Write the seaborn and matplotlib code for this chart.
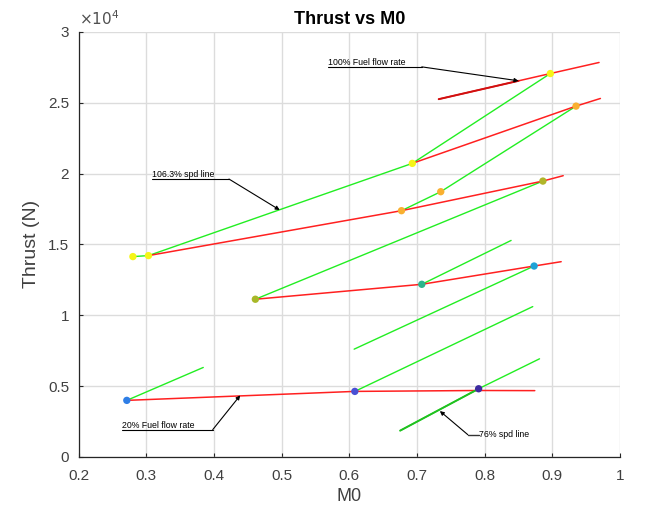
import numpy as np
import pandas as pd
import matplotlib
matplotlib.use("Agg")
import matplotlib.pyplot as plt
import seaborn as sns
from matplotlib.ticker import FuncFormatter

# ---- data ----
# green speed lines
spd_names = ["G1", "G2", "G3", "G4", "G5", "G6", "G7", "G8"]
spd_x = [[0.280, 0.303, 0.693, 0.897],
         [0.677, 0.735, 0.935],
         [0.461, 0.886],
         [0.707, 0.839],
         [0.607, 0.873],
         [0.608, 0.871],
         [0.675, 0.793, 0.881],
         [0.271, 0.384]]
spd_y = [[14140, 14210, 20720, 27060],
         [17380, 18720, 24760],
         [11130, 19470],
         [12184, 15280],
         [7607, 13474],
         [4626, 10611],
         [1857, 4861, 6926],
         [3993, 6316]]
# red fuel flow lines
fuel_names = ["R1", "R2", "R3", "R4", "R5"]
fuel_x = [[0.732, 0.897, 0.969],
          [0.693, 0.935, 0.971],
          [0.303, 0.677, 0.886, 0.916],
          [0.461, 0.707, 0.873, 0.913],
          [0.271, 0.608, 0.793, 0.874]]
fuel_y = [[25250, 27060, 27840],
          [20720, 24760, 25300],
          [14210, 17380, 19470, 19850],
          [11130, 12184, 13474, 13780],
          [3993, 4626, 4690, 4680]]
# overlapping (darker) segments
dark_red_x = [0.732, 0.850]
dark_red_y = [25250, 26545]
dark_green_x = [0.675, 0.793]
dark_green_y = [1857, 4861]
# operating points
pt_x = [0.280, 0.303, 0.693, 0.897, 0.935, 0.677, 0.735, 0.886, 0.461, 0.707, 0.873, 0.271, 0.608, 0.791]
pt_y = [14140, 14210, 20720, 27060, 24760, 17380, 18720, 19470, 11130, 12184, 13474, 3993, 4626, 4813]
pt_colors = ["#f5f518", "#f5f518", "#f5f518", "#f5f518", "#f9b030", "#f9b030", "#f9b030",
             "#b0b52a", "#a8b828", "#2cb58c", "#1ea2d6", "#2f7ee6", "#4950d4", "#3d2aa0"]

# annotations: text, text x, text y, line start x, line y, elbow x, target x, target y
ann_text = ["100% Fuel flow rate", "106.3% spd line", "20% Fuel flow rate", "76% spd line"]
ann_tx = [0.568, 0.308, 0.2646, 0.791]
ann_ty = [27815, 19966, 2232, 1572]
ann_lx = [0.568, 0.308, 0.2646, 0.791]
ann_ly = [27530, 19613, 1927, 1572]
ann_ex = [0.707, 0.422, 0.398, 0.775]
ann_px = [0.850, 0.497, 0.4386, 0.7337]
ann_py = [26545, 17428, 4345, 3240]

# ---- build tables ----
rows = []
for n, xs, ys in zip(spd_names, spd_x, spd_y):
    for i, (a, b) in enumerate(zip(xs, ys)):
        rows.append((n, i, a, b))
spd_df = pd.DataFrame(rows, columns=["line", "order", "M0", "Thrust"])
rows = []
for n, xs, ys in zip(fuel_names, fuel_x, fuel_y):
    for i, (a, b) in enumerate(zip(xs, ys)):
        rows.append((n, i, a, b))
fuel_df = pd.DataFrame(rows, columns=["line", "order", "M0", "Thrust"])
pts_df = pd.DataFrame({"M0": pt_x, "Thrust": pt_y, "id": [str(i) for i in range(len(pt_x))]})

sns.set_theme(style="white")
plt.rcParams["font.family"] = ["Liberation Sans", "DejaVu Sans"]

fig = plt.figure(figsize=(6.62, 5.14), dpi=100)
ax = fig.add_axes([0.119, 0.111, 0.8176, 0.827])

sns.lineplot(data=spd_df, x="M0", y="Thrust", units="line", estimator=None, sort=False,
             color="#22ee22", lw=1.0, ax=ax, legend=False)
sns.lineplot(data=fuel_df, x="M0", y="Thrust", units="line", estimator=None, sort=False,
             color="#ff2020", lw=1.1, ax=ax, legend=False)
sns.lineplot(x=dark_red_x, y=dark_red_y, color="#d01010", lw=1.4, ax=ax, legend=False)
sns.lineplot(x=dark_green_x, y=dark_green_y, color="#20c020", lw=1.4, ax=ax, legend=False)
sns.scatterplot(data=pts_df, x="M0", y="Thrust", hue="id", palette=pt_colors, s=28,
                marker="o", linewidth=0, ax=ax, legend=False, zorder=5)

for t, tx, ty, lx, ly, ex, px, py in zip(ann_text, ann_tx, ann_ty, ann_lx, ann_ly, ann_ex, ann_px, ann_py):
    ax.text(tx, ty, t, fontsize=6.3, va="center", ha="left", color="black")
    if ly != ty:
        ax.plot([lx, ex], [ly, ly], color="black", lw=0.8)
    else:
        ax.plot([ex, lx], [ly, ly], color="#333333", lw=1.0)
    ax.annotate("", xy=(px, py), xytext=(ex, ly),
                arrowprops=dict(arrowstyle="-|>", lw=0.8, color="black", mutation_scale=6,
                                shrinkA=0, shrinkB=0))

ax.set_xlim(0.2, 1.0)
ax.set_ylim(0, 30000)
ax.set_xticks(np.arange(0.2, 1.001, 0.1))
ax.set_yticks(np.arange(0, 30001, 5000))
ax.xaxis.set_major_formatter(FuncFormatter(lambda v, p: f"{v:g}"))
ax.yaxis.set_major_formatter(FuncFormatter(lambda v, p: f"{v/1e4:g}"))
ax.grid(True, color="#dcdcdc", lw=1.0)
ax.set_axisbelow(True)
for s in ["top", "right"]:
    ax.spines[s].set_visible(False)
for s in ["left", "bottom"]:
    ax.spines[s].set_color("#262626")
    ax.spines[s].set_linewidth(0.9)
ax.tick_params(direction="in", length=3, width=0.8, colors="#262626", labelsize=11,
               labelcolor="#404040", left=True, bottom=True)
ax.tick_params(axis="x", pad=9)
ax.tick_params(axis="y", pad=7)
ax.set_xlabel("M0", fontsize=13, color="#404040", labelpad=3)
ax.set_ylabel("Thrust (N)", fontsize=14, color="#404040", labelpad=6)
ax.set_title("Thrust vs M0", fontsize=13, fontweight="bold", color="black", pad=6)
ax.text(0.0, 1.008, r"$\times10^{4}$", transform=ax.transAxes, fontsize=11, color="#505050",
        ha="left", va="bottom")

fig.savefig("out.png", dpi=100)
